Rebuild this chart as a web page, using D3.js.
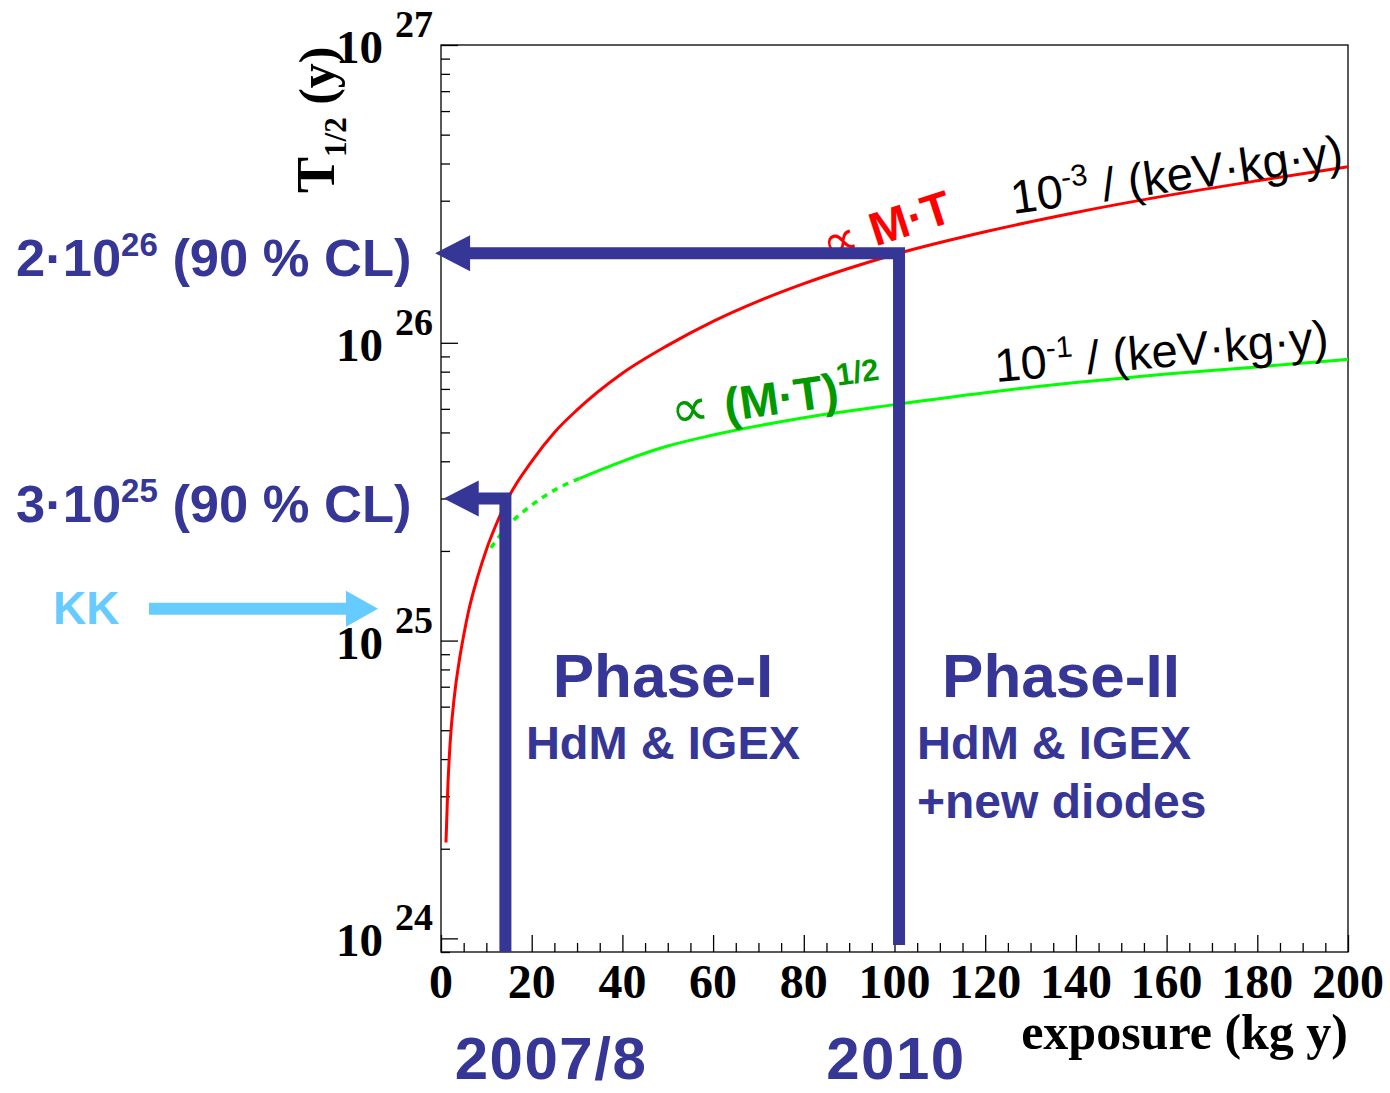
<!DOCTYPE html>
<html>
<head>
<meta charset="utf-8">
<script src="https://cdn.jsdelivr.net/npm/d3@7"></script>
<style>
  html, body { margin: 0; padding: 0; background: #fff; }
  svg { display: block; }
</style>
</head>
<body>
<svg id="chart" width="1390" height="1093"></svg>
<script>
// Exposure (kg y) vs. half-life sensitivity T1/2 (y)
const exposureRed = [1.1, 1.5, 2, 3, 4, 5, 6, 8, 10, 12, 15, 20, 25, 30, 40, 50, 60, 70, 80, 90, 100, 120, 140, 160, 180, 200];
const halfLifeRed = [2.1e24, 3.2e24, 4.5e24, 6.6e24, 8.5e24, 1.04e25, 1.24e25, 1.62e25, 2.02e25, 2.42e25, 3.05e25, 4.0e25, 5.0e25, 5.95e25, 7.9e25, 9.8e25, 1.18e26, 1.38e26, 1.58e26, 1.78e26, 1.98e26, 2.36e26, 2.74e26, 3.12e26, 3.5e26, 3.9e26];

const exposureGreenDotted = [11, 15, 20, 25, 30.5];
const halfLifeGreenDotted = [2.05e25, 2.45e25, 2.85e25, 3.2e25, 3.5e25];

const exposureGreen = [30.5, 40, 50, 60, 80, 100, 120, 140, 160, 180, 200];
const halfLifeGreen = [3.5e25, 4.0e25, 4.5e25, 4.9e25, 5.6e25, 6.2e25, 6.8e25, 7.35e25, 7.85e25, 8.3e25, 8.8e25];

// Limit arrows: exposure reached, limit (y), where the vertical leg starts, arrow tip exposure
const limitExposure = [14.2, 101];
const limitValue = [3e25, 2e26];
const limitBase = [9e23, 9.5e23];
const limitTip = [0.6, -1.3];
const limitText = [["3·10", "25", " (90 % CL)"], ["2·10", "26", " (90 % CL)"]];

const kkValue = 1.28e25;

const xTickValues = [0, 20, 40, 60, 80, 100, 120, 140, 160, 180, 200];
const yDecades = [24, 25, 26, 27];

const BLUE = "#363696";
const SANS = "'Liberation Sans', Arial, Helvetica, sans-serif";
const SERIF = "'Liberation Serif', 'Times New Roman', serif";

const svg = d3.select("#chart");
const plotL = 441, plotR = 1348, plotT = 45, plotB = 952;

const x = d3.scaleLinear().domain([0, 200]).range([plotL, plotR]);
const y = d3.scaleLog().domain([9e23, 1e27]).range([plotB, plotT]);

// frame
svg.append("rect")
  .attr("x", plotL).attr("y", plotT)
  .attr("width", plotR - plotL).attr("height", plotB - plotT)
  .attr("fill", "none").attr("stroke", "#000").attr("stroke-width", 1.3);

// x axis ticks (drawn upward into the frame)
const xMinor = d3.range(0, 201, 5).filter(v => v % 20 !== 0);
function cleanAxis(g) {
  g.select(".domain").remove();
  g.selectAll(".tick text").remove();
  g.selectAll(".tick line").attr("stroke", "#000").attr("stroke-width", 1.3);
}
svg.append("g").attr("transform", `translate(0,${plotB})`)
  .call(d3.axisTop(x).tickValues(xTickValues).tickSize(17)).call(cleanAxis);
svg.append("g").attr("transform", `translate(0,${plotB})`)
  .call(d3.axisTop(x).tickValues(xMinor).tickSize(9)).call(cleanAxis);

// y axis ticks (drawn rightward into the frame)
const yMajor = yDecades.map(d => Math.pow(10, d));
const yMinor = [];
[23, 24, 25, 26].forEach(d => { for (let k = 2; k <= 9; k++) { const v = k * Math.pow(10, d); if (v >= 9e23 && v < 1e27) yMinor.push(v); } });
svg.append("g").attr("transform", `translate(${plotL},0)`)
  .call(d3.axisRight(y).tickValues(yMajor).tickSize(17)).call(cleanAxis);
svg.append("g").attr("transform", `translate(${plotL},0)`)
  .call(d3.axisRight(y).tickValues(yMinor).tickSize(9)).call(cleanAxis);

// x tick labels
svg.append("g").selectAll("text").data(xTickValues).join("text")
  .attr("x", d => x(d)).attr("y", 998)
  .attr("text-anchor", "middle")
  .attr("font-family", SERIF).attr("font-weight", "bold").attr("font-size", 48)
  .text(d => d);

// y tick labels 10^n
const yl = svg.append("g").selectAll("g").data(yDecades).join("g");
yl.append("text")
  .attr("x", 383).attr("y", d => y(Math.pow(10, d)) + 18)
  .attr("text-anchor", "end")
  .attr("font-family", SERIF).attr("font-weight", "bold").attr("font-size", 47)
  .text("10");
yl.append("text")
  .attr("x", 395).attr("y", d => y(Math.pow(10, d)) - 8)
  .attr("font-family", SERIF).attr("font-weight", "bold").attr("font-size", 38)
  .text(d => d);

// axis titles
svg.append("text")
  .attr("x", plotR).attr("y", 1049).attr("text-anchor", "end")
  .attr("font-family", SERIF).attr("font-weight", "bold").attr("font-size", 50)
  .text("exposure (kg y)");

const yt = svg.append("text")
  .attr("transform", "translate(334,193) rotate(-90)")
  .attr("font-family", SERIF).attr("font-weight", "bold").attr("font-size", 54);
yt.append("tspan").text("T");
yt.append("tspan").attr("font-size", 31).attr("dy", 12).text("1/2");
yt.append("tspan").attr("dy", -12).attr("font-size", 50).text(" (y)");

// curves
const line = d3.line().x(d => x(d[0])).y(d => y(d[1])).curve(d3.curveMonotoneX);
const redPts = d3.zip(exposureRed, halfLifeRed);
const greenPts = d3.zip(exposureGreen, halfLifeGreen);
const greenDotPts = d3.zip(exposureGreenDotted, halfLifeGreenDotted);

svg.append("path").attr("d", line(greenDotPts))
  .attr("fill", "none").attr("stroke", "#00ff00").attr("stroke-width", 3.5)
  .attr("stroke-dasharray", "6,6");
svg.append("path").attr("d", line(greenPts))
  .attr("fill", "none").attr("stroke", "#00ff00").attr("stroke-width", 3);
svg.append("path").attr("d", line(redPts))
  .attr("fill", "none").attr("stroke", "#ff0000").attr("stroke-width", 3);

// curve annotations
const redLbl = svg.append("text")
  .attr("transform", "translate(828,262) rotate(-18)")
  .attr("fill", "#ff0000").attr("font-family", SANS).attr("font-size", 47);
redLbl.append("tspan").attr("font-size", 50).text("∝ ");
redLbl.append("tspan").attr("font-weight", "bold").text("M·T");

const greenLbl = svg.append("text")
  .attr("transform", "translate(673,429) rotate(-8)")
  .attr("fill", "#009900").attr("font-family", SANS).attr("font-size", 47);
greenLbl.append("tspan").attr("font-size", 54).text("∝ ");
greenLbl.append("tspan").attr("font-weight", "bold").text("(M·T)");
greenLbl.append("tspan").attr("font-weight", "bold").attr("font-size", 31).attr("dy", -20).text("1/2");

function bgLabel(tx, ty, ang, exp) {
  const t = svg.append("text")
    .attr("transform", `translate(${tx},${ty}) rotate(${ang})`)
    .attr("fill", "#000").attr("font-family", SANS).attr("font-size", 47);
  t.append("tspan").text("10");
  t.append("tspan").attr("font-size", 30).attr("dy", -19).text(exp);
  t.append("tspan").attr("dy", 19).text(" / (keV·kg·y)");
}
bgLabel(1013, 214, -8, "-3");
bgLabel(996, 382, -5, "-1");

// phase labels
const phase = [
  { cx: 663, lines: [["Phase-I", 62, 697], ["HdM & IGEX", 47, 759]] },
  { cx: 1061, lines: [["Phase-II", 62, 697]] }
];
phase.forEach(p => p.lines.forEach(l => {
  svg.append("text").attr("x", p.cx).attr("y", l[2]).attr("text-anchor", "middle")
    .attr("fill", BLUE).attr("font-family", SANS).attr("font-weight", "bold").attr("font-size", l[1])
    .text(l[0]);
}));
svg.append("text").attr("x", 917).attr("y", 759)
  .attr("fill", BLUE).attr("font-family", SANS).attr("font-weight", "bold").attr("font-size", 47)
  .text("HdM & IGEX");
svg.append("text").attr("x", 917).attr("y", 818)
  .attr("fill", BLUE).attr("font-family", SANS).attr("font-weight", "bold").attr("font-size", 48)
  .text("+new diodes");

// year labels under the limit arrows
const years = ["2007/8", "2010"];
svg.append("g").selectAll("text").data(years).join("text")
  .attr("x", (d, i) => [551, 896][i]).attr("y", 1079).attr("text-anchor", "middle")
  .attr("fill", BLUE).attr("font-family", SANS).attr("font-weight", "bold").attr("font-size", 60)
  .attr("letter-spacing", 1.5)
  .text(d => d);

// limit arrows: up from the exposure, then left to the half-life axis
const barW = 12, headLen = 35, headHalf = 18;
limitExposure.forEach((e, i) => {
  const vx = x(e), vy = y(limitValue[i]), by = y(limitBase[i]);
  const tipX = x(limitTip[i]);
  const h = barW / 2;
  const pts = [
    [vx + h, by], [vx + h, vy - h], [tipX + headLen, vy - h], [tipX + headLen, vy - headHalf],
    [tipX, vy], [tipX + headLen, vy + headHalf], [tipX + headLen, vy + h], [vx - h, vy + h], [vx - h, by]
  ];
  svg.append("path").attr("d", "M" + pts.map(p => p.join(",")).join("L") + "Z").attr("fill", BLUE);

  const t = svg.append("text").attr("x", 16).attr("y", vy + 23)
    .attr("fill", BLUE).attr("font-family", SANS).attr("font-weight", "bold").attr("font-size", 52.5);
  t.append("tspan").text(limitText[i][0]);
  t.append("tspan").attr("font-size", 33).attr("dy", -20).text(limitText[i][1]);
  t.append("tspan").attr("dy", 20).text(limitText[i][2]);
});

// KK claim arrow
const ky = y(kkValue);
svg.append("text").attr("x", 53).attr("y", ky + 15)
  .attr("fill", "#66ccff").attr("font-family", SANS).attr("font-weight", "bold").attr("font-size", 46)
  .text("KK");
const kPts = [[149, ky - 6], [346, ky - 6], [346, ky - 18], [378, ky], [346, ky + 18], [346, ky + 6], [149, ky + 6]];
svg.append("path").attr("d", "M" + kPts.map(p => p.join(",")).join("L") + "Z").attr("fill", "#66ccff");
</script>
</body>
</html>
